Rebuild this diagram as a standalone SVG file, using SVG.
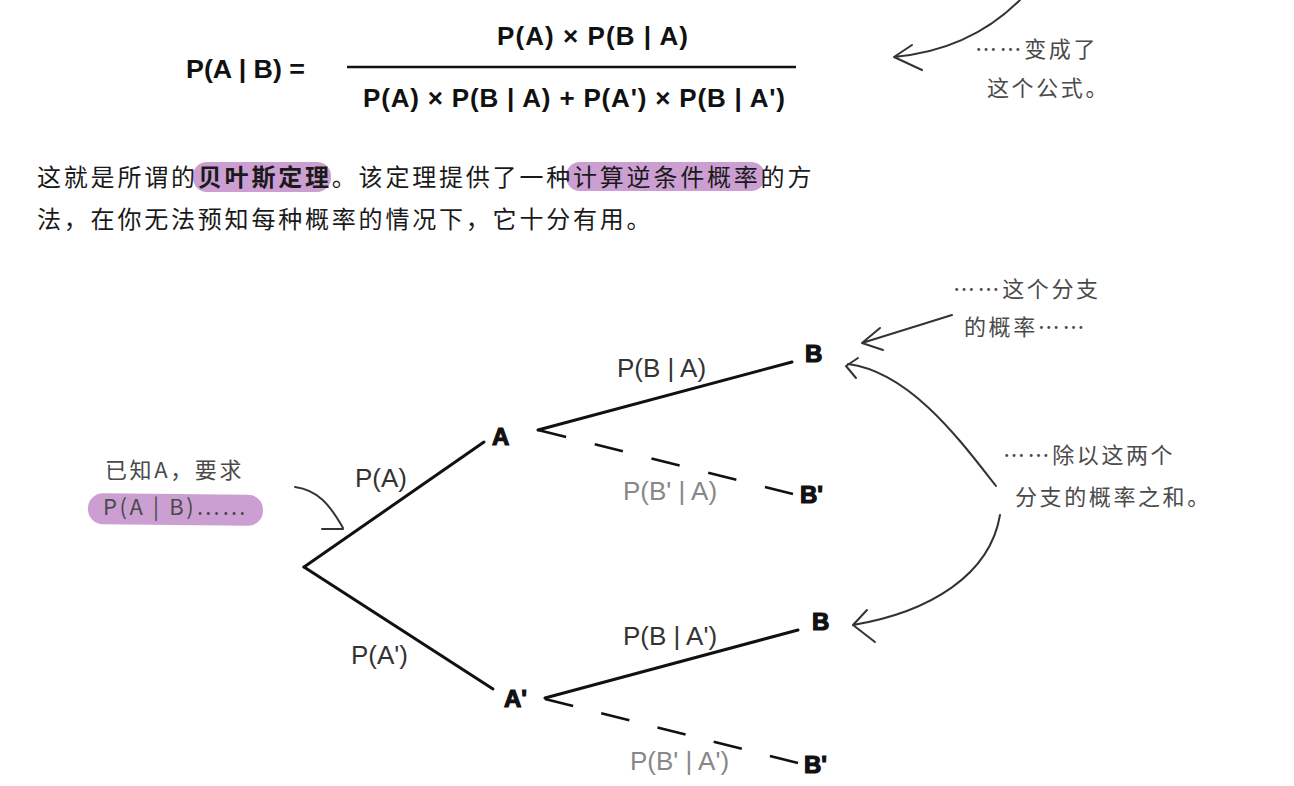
<svg xmlns="http://www.w3.org/2000/svg" width="1294" height="786" viewBox="0 0 1294 786">
<defs>
<style>
.f{font-family:"Liberation Sans",Arial,sans-serif;font-weight:bold;font-size:26px;fill:#111}
.p{font-family:"Noto Sans CJK SC",sans-serif;font-size:24px;fill:#1a1a1a;letter-spacing:2.8px}
.hw{font-family:"Noto Sans CJK SC",sans-serif;font-size:22px;fill:#4a4a4a;letter-spacing:2.6px}
.lbl{font-family:"Liberation Sans",Arial,sans-serif;font-size:26px;fill:#333}
.lbl2{font-family:"Liberation Sans",Arial,sans-serif;font-size:26px;fill:#888}
.node{font-family:"Liberation Sans",Arial,sans-serif;font-weight:900;font-size:24px;fill:#111;stroke:#111;stroke-width:1.2}
.hl{fill:#cc9fd2}
.br{stroke:#111;stroke-width:3;fill:none;stroke-linecap:round}
.ds{stroke:#111;stroke-width:2.6;fill:none}
.ar{stroke:#333;stroke-width:2;fill:none;stroke-linecap:round;stroke-linejoin:round}
</style>
</defs>
<rect width="1294" height="786" fill="#fff"/>

<g id="formula">
<text class="f" x="186" y="78" textLength="119" lengthAdjust="spacingAndGlyphs">P(A | B) =</text>
<text class="f" x="497" y="45" textLength="191" lengthAdjust="spacing">P(A) × P(B | A)</text>
<line x1="347" y1="67" x2="796" y2="67" stroke="#111" stroke-width="2.5"/>
<text class="f" x="363" y="107" textLength="422" lengthAdjust="spacing">P(A) × P(B | A) + P(A') × P(B | A')</text>
</g>

<g id="note-formula">
<path class="ar" d="M1020,0 C990,30 950,52 894,57 M894,57 L912,45 M894,57 L922,70"/>
<text class="hw" x="975" y="57">……变成了</text>
<text class="hw" x="987" y="96">这个公式。</text>
</g>

<g id="paragraph">
<rect class="hl" x="193" y="162" width="138" height="30" rx="14"/>
<rect class="hl" x="566" y="162" width="199" height="29" rx="14"/>
<text class="p" x="37" y="186">这就是所谓的<tspan font-weight="bold">贝叶斯定理</tspan>。该定理提供了一种计算逆条件概率的方</text>
<text class="p" x="37" y="228">法，在你无法预知每种概率的情况下，它十分有用。</text>
</g>

<g id="connectors">
<line class="br" x1="304" y1="567" x2="484" y2="442"/>
<line class="br" x1="304" y1="567" x2="493" y2="689"/>
<line class="br" x1="538" y1="430" x2="792" y2="362"/>
<line class="ds" x1="538" y1="430" x2="793" y2="494" stroke-dasharray="29 29.5"/>
<line class="br" x1="545" y1="698" x2="798" y2="630"/>
<line class="ds" x1="545" y1="699" x2="798" y2="763" stroke-dasharray="29 29"/>
</g>

<g id="root-note">
<rect class="hl" x="88" y="494" width="175" height="31" rx="15" transform="rotate(0.6 175 509)"/>
<text class="hw" x="105" y="478">已知A，要求</text>
<text class="hw" x="103" y="515" letter-spacing="1.5">P(A | B)……</text>
<path class="ar" d="M295,487 C318,490 330,505 343,528 M322,529 L343,529"/>
</g>

<g id="node-A"><text class="node" x="492" y="445">A</text></g>
<g id="node-Ap"><text class="node" x="504" y="707">A'</text></g>
<g id="node-B1"><text class="node" x="805" y="362">B</text></g>
<g id="node-Bp1"><text class="node" x="800" y="503">B'</text></g>
<g id="node-B2"><text class="node" x="812" y="630">B</text></g>
<g id="node-Bp2"><text class="node" x="804" y="773">B'</text></g>

<g id="edge-labels">
<text class="lbl" x="355" y="487">P(A)</text>
<text class="lbl" x="351" y="664">P(A')</text>
<text class="lbl" x="617" y="377">P(B | A)</text>
<text class="lbl2" x="623" y="500">P(B' | A)</text>
<text class="lbl" x="623" y="645">P(B | A')</text>
<text class="lbl2" x="630" y="770">P(B' | A')</text>
</g>

<g id="note-branch">
<text class="hw" x="953" y="297">……这个分支</text>
<text class="hw" x="964" y="335">的概率……</text>
<path class="ar" d="M952,315 L862,343 M862,343 L880,328 M862,343 L883,350"/>
</g>

<g id="note-sum">
<text class="hw" x="1003" y="463">……除以这两个</text>
<text class="hw" x="1015" y="505">分支的概率之和。</text>
<path class="ar" d="M996,486 C960,440 910,372 848,364 M846,366 L858,358 M846,366 L856,378"/>
<path class="ar" d="M1000,515 C990,575 930,612 853,625 M853,625 L867,610 M853,625 L875,642"/>
</g>
</svg>
